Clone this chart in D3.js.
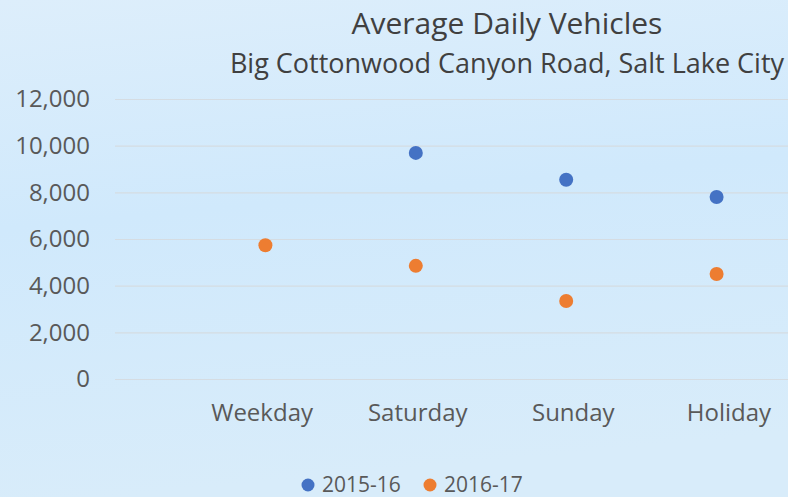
<!DOCTYPE html>
<html>
<head>
<meta charset="utf-8">
<script src="https://cdn.jsdelivr.net/npm/d3@7"></script>
<style>
    html, body { margin: 0; padding: 0; overflow: hidden; }
    text { font-family: "Open Sans", sans-serif; }
</style>
</head>
<body>
<div id="chart"></div>
<script>
var categories = ["Weekday", "Saturday", "Sunday", "Holiday"];
var seriesNames = ["2015-16", "2016-17"];
// the 2015-16 weekday marker is hidden behind the 2016-17 one
var values2015 = [null, 9690, 8540, 7800];
var values2016 = [5730, 4850, 3340, 4500];
var yTicks = [0, 2000, 4000, 6000, 8000, 10000, 12000];

var width = 788,
    height = 497,
    plotLeft = 115,
    plotRight = 867,
    plotTop = 99,
    plotBottom = 379;

var colors = ["#4472C4", "#ED7D31"];

var svg = d3.select("#chart")
    .append("svg")
    .attr("width", width)
    .attr("height", height);

var defs = svg.append("defs");

var bg = defs.append("linearGradient")
    .attr("id", "bgGradient")
    .attr("x1", "0").attr("y1", "0")
    .attr("x2", "0.15").attr("y2", "1");

bg.append("stop").attr("offset", "0%").style("stop-color", "#ddeefb");
bg.append("stop").attr("offset", "45%").style("stop-color", "#d0e9fc");
bg.append("stop").attr("offset", "100%").style("stop-color", "#d8ecfa");

svg.append("rect")
    .attr("width", width)
    .attr("height", height)
    .style("fill", "url(#bgGradient)");

var x = d3.scalePoint()
    .domain(categories)
    .range([plotLeft, plotRight])
    .padding(1);

// labels sit a little wider than the markers in the original
var xLabel = d3.scalePoint()
    .domain(categories)
    .range([106, 884])
    .padding(1);

var y = d3.scaleLinear()
    .domain([0, 12000])
    .range([plotBottom, plotTop]);

// gridlines + y labels
var yAxis = d3.axisLeft(y)
    .tickValues(yTicks)
    .tickSize(-(plotRight - plotLeft))
    .tickPadding(25)
    .tickFormat(d3.format(","));

var gy = svg.append("g")
    .attr("transform", "translate(" + plotLeft + ",0)")
    .call(yAxis);

gy.select(".domain").remove();

gy.selectAll(".tick line")
    .style("stroke", "#d5dce2")
    .style("stroke-width", "1.2px");

gy.selectAll(".tick text")
    .style("fill", "#595959")
    .style("font-size", "24px");

// category labels
var xAxis = d3.axisBottom(xLabel)
    .tickSize(0)
    .tickPadding(0);

var gx = svg.append("g")
    .attr("transform", "translate(0,403)")
    .call(xAxis);

gx.select(".domain").remove();

gx.selectAll(".tick text")
    .attr("dy", "0.75em")
    .style("fill", "#595959")
    .style("font-size", "24px");

// points
[values2015, values2016].forEach(function (vals, i) {
    svg.append("g")
        .selectAll("circle")
        .data(vals.map(function (v, j) { return { cat: categories[j], v: v }; })
            .filter(function (d) { return d.v != null; }))
        .join("circle")
        .attr("cx", function (d) { return x(d.cat); })
        .attr("cy", function (d) { return y(d.v); })
        .attr("r", 7)
        .style("fill", colors[i]);
});

// titles
svg.append("text")
    .attr("x", 507)
    .attr("y", 34)
    .attr("text-anchor", "middle")
    .text("Average Daily Vehicles")
    .style("fill", "#404040")
    .style("font-size", "30px");

svg.append("text")
    .attr("x", 507)
    .attr("y", 73)
    .attr("text-anchor", "middle")
    .text("Big Cottonwood Canyon Road, Salt Lake City")
    .style("fill", "#404040")
    .style("font-size", "27px");

// legend
var legendX = [308, 430];

seriesNames.forEach(function (name, i) {
    svg.append("circle")
        .attr("cx", legendX[i])
        .attr("cy", 485)
        .attr("r", 6.5)
        .style("fill", colors[i]);

    svg.append("text")
        .attr("x", legendX[i] + 14)
        .attr("y", 492)
        .text(name)
        .style("fill", "#595959")
        .style("font-size", "21px");
});
</script>
</body>
</html>
